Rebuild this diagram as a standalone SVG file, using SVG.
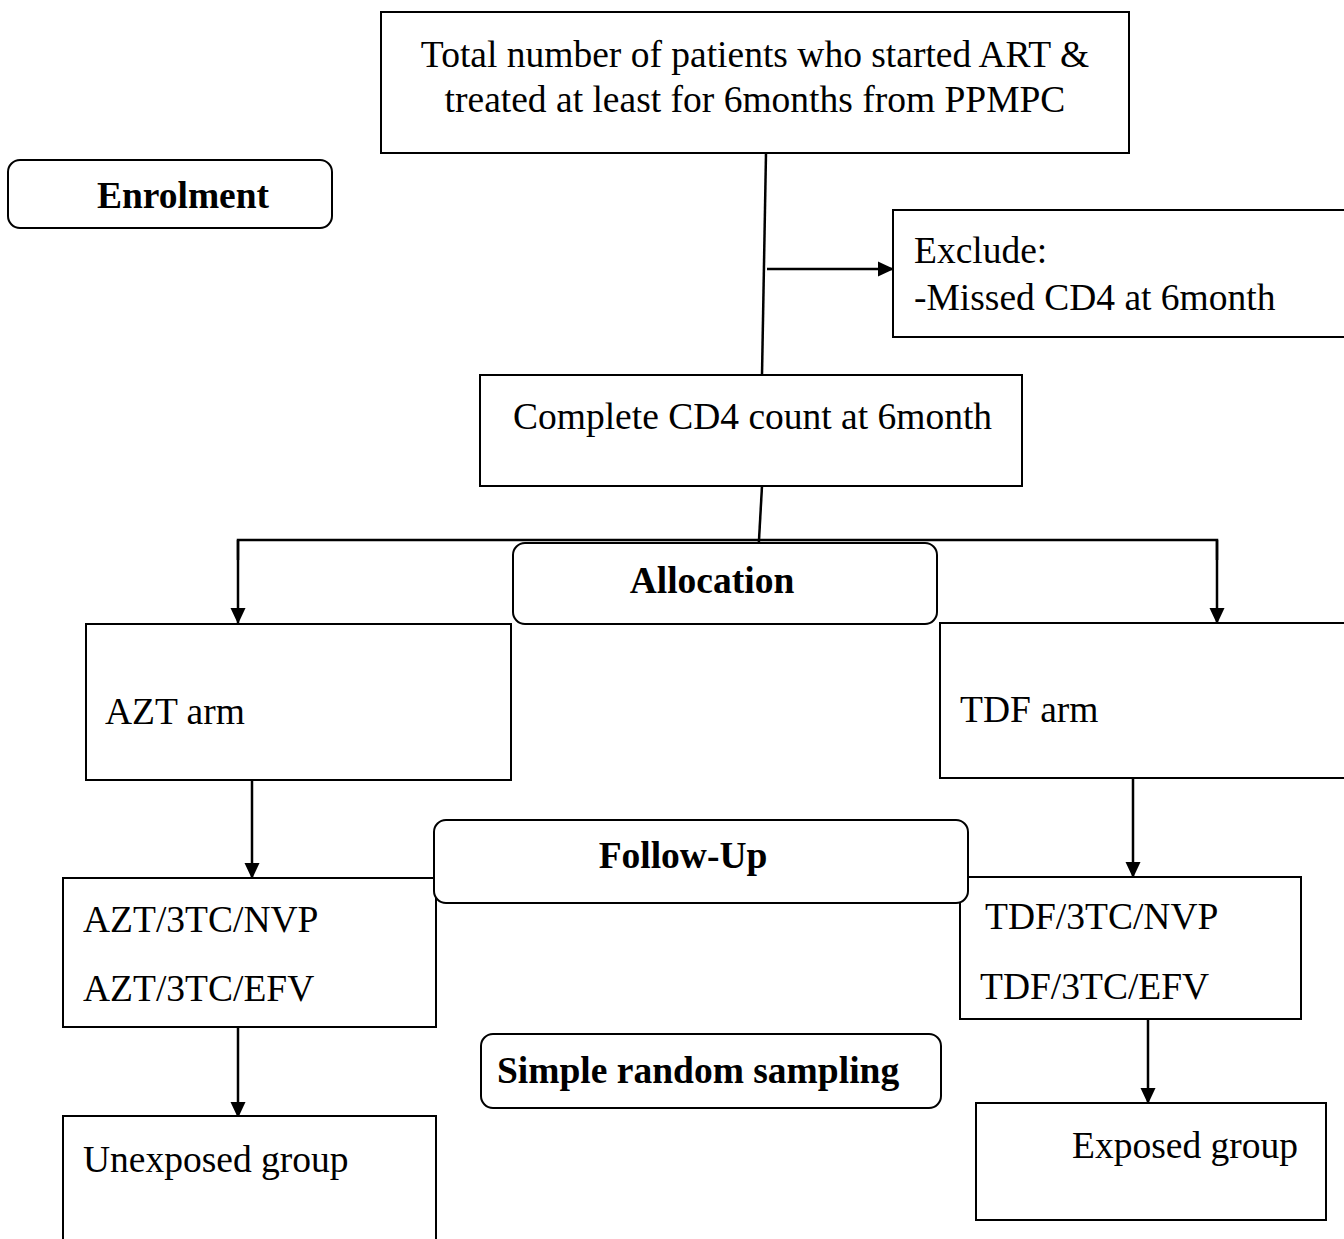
<svg xmlns="http://www.w3.org/2000/svg" width="1344" height="1239" viewBox="0 0 1344 1239">
<style>
.box{fill:#fff;stroke:#000;stroke-width:2}
.t{font-family:"Liberation Serif","Times New Roman",serif;font-size:37.5px;fill:#000}
.b{font-weight:bold}
.ln{stroke:#000;stroke-width:2.5;fill:none}
</style>
<defs>
<marker id="ah" markerWidth="16" markerHeight="16" refX="15" refY="8" orient="auto" markerUnits="userSpaceOnUse">
<path d="M0,0.5 L16,8 L0,15.5 Z" fill="#000"/>
</marker>
</defs>
<rect width="1344" height="1239" fill="#fff"/>
<g id="connectors">
<line class="ln" x1="766" y1="153" x2="762" y2="375"/>
<line class="ln" x1="767" y1="269" x2="893" y2="269" marker-end="url(#ah)"/>
<line class="ln" x1="762" y1="486" x2="758" y2="558" marker-end="url(#ah)"/>
<polyline class="ln" points="238,560 238,540 1217,540 1217,560"/>
<line class="ln" x1="238" y1="540" x2="238" y2="623" marker-end="url(#ah)"/>
<line class="ln" x1="1217" y1="540" x2="1217" y2="623" marker-end="url(#ah)"/>
<line class="ln" x1="252" y1="780" x2="252" y2="878" marker-end="url(#ah)"/>
<line class="ln" x1="1133" y1="778" x2="1133" y2="877" marker-end="url(#ah)"/>
<line class="ln" x1="238" y1="1023" x2="238" y2="1117" marker-end="url(#ah)"/>
<line class="ln" x1="1148" y1="1007" x2="1148" y2="1103" marker-end="url(#ah)"/>
</g>
<g id="total">
<rect class="box" x="381" y="12" width="748" height="141"/>
<text class="t" x="755" y="67" text-anchor="middle">Total number of patients who started ART &amp;</text>
<text class="t" x="755" y="112" text-anchor="middle">treated at least for 6months from PPMPC</text>
</g>
<g id="enrolment">
<rect class="box" x="8" y="160" width="324" height="68" rx="12"/>
<text class="t b" x="183" y="208" text-anchor="middle">Enrolment</text>
</g>
<g id="exclude">
<rect class="box" x="893" y="210" width="460" height="127"/>
<text class="t" x="914" y="263">Exclude:</text>
<text class="t" x="914" y="310">-Missed CD4 at 6month</text>
</g>
<g id="complete">
<rect class="box" x="480" y="375" width="542" height="111"/>
<text class="t" x="513" y="429">Complete CD4 count at 6month</text>
</g>
<g id="allocation">
<rect class="box" x="513" y="543" width="424" height="81" rx="12"/>
<text class="t b" x="712" y="593" text-anchor="middle">Allocation</text>
</g>
<g id="azt-arm">
<rect class="box" x="86" y="624" width="425" height="156"/>
<text class="t" x="105" y="724">AZT arm</text>
</g>
<g id="tdf-arm">
<rect class="box" x="940" y="623" width="420" height="155"/>
<text class="t" x="960" y="722">TDF arm</text>
</g>
<g id="azt-regimens">
<rect class="box" x="63" y="878" width="373" height="149"/>
<text class="t" x="83" y="932">AZT/3TC/NVP</text>
<text class="t" x="83" y="1001">AZT/3TC/EFV</text>
</g>
<g id="tdf-regimens">
<rect class="box" x="960" y="877" width="341" height="142"/>
<text class="t" x="985" y="929">TDF/3TC/NVP</text>
<text class="t" x="980" y="999">TDF/3TC/EFV</text>
</g>
<g id="followup">
<rect class="box" x="434" y="820" width="534" height="83" rx="12"/>
<text class="t b" x="683" y="868" text-anchor="middle">Follow-Up</text>
</g>
<g id="sampling">
<rect class="box" x="481" y="1034" width="460" height="74" rx="12"/>
<text class="t b" x="497" y="1083">Simple random sampling</text>
</g>
<g id="unexposed">
<rect class="box" x="63" y="1116" width="373" height="140"/>
<text class="t" x="83" y="1172">Unexposed group</text>
</g>
<g id="exposed">
<rect class="box" x="976" y="1103" width="350" height="117"/>
<text class="t" x="1072" y="1158">Exposed group</text>
</g>
</svg>
